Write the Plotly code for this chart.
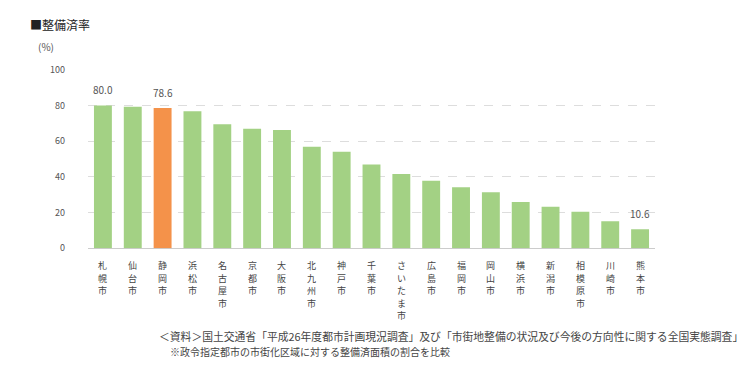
import plotly.graph_objects as go

# 政令指定都市別の整備率（%）
cities = ["札幌市", "仙台市", "静岡市", "浜松市", "名古屋市", "京都市", "大阪市",
          "北九州市", "神戸市", "千葉市", "さいたま市", "広島市", "福岡市", "岡山市",
          "横浜市", "新潟市", "相模原市", "川崎市", "熊本市"]
rates = [80.0, 79.2, 78.6, 76.8, 69.4, 66.9, 66.3, 56.8, 54.1, 46.9, 41.6,
         37.8, 34.1, 31.4, 25.9, 23.2, 20.5, 15.1, 10.6]
highlight = "静岡市"
labelled = ["札幌市", "静岡市", "熊本市"]

y_ticks = [0, 20, 40, 60, 80, 100]

W, H = 747, 371
FONT = "Noto Sans CJK JP, Noto Sans, sans-serif"

colors = ["#f4924a" if c == highlight else "#a3d184" for c in cities]

fig = go.Figure(go.Bar(
    x=cities,
    y=rates,
    marker=dict(color=colors, line=dict(width=0)),
    width=0.6,
    cliponaxis=False,
))

fig.update_layout(
    width=W, height=H,
    margin=dict(l=0, r=0, t=0, b=0),
    paper_bgcolor="white", plot_bgcolor="white",
    showlegend=False,
    font=dict(family=FONT, color="#444444"),
    xaxis=dict(
        domain=[88 / W, 655 / W],
        showticklabels=False,
        showgrid=False, showline=False, ticks="",
    ),
    yaxis=dict(
        domain=[(H - 250) / H, (H - 65) / H],
        range=[0, 100],
        tickvals=y_ticks,
        ticktext=[str(t) for t in y_ticks],
        tickfont=dict(size=9, color="#555555"),
        showgrid=True, gridcolor="#dddddd", griddash="dash", gridwidth=1,
        zeroline=True, zerolinecolor="#cccccc", zerolinewidth=1,
        showline=False, ticks="", ticklabelstandoff=22,
    ),
)

# 縦書きの都市名（1文字ずつ配置）
for name in cities:
    for j, ch in enumerate(name):
        fig.add_annotation(text=ch, x=name, y=1 - (268 + 13 * j) / H,
                           xref="x", yref="paper", xanchor="center", yanchor="middle",
                           showarrow=False,
                           font=dict(size=9, color="#444444", family=FONT))

# 数値ラベル
for name in labelled:
    v = rates[cities.index(name)]
    fig.add_annotation(text=f"{v:.1f}", x=name, y=v, xref="x", yref="y",
                       yanchor="bottom", yshift=6, showarrow=False,
                       font=dict(size=10, color="#555555", family=FONT))

fig.add_annotation(text="■整備済率", x=28 / W, y=1 - 18 / H, xref="paper", yref="paper",
                   xanchor="left", yanchor="middle", showarrow=False,
                   font=dict(size=12, color="#222222", family=FONT))
fig.add_annotation(text="(%)", x=36 / W, y=1 - 41 / H, xref="paper", yref="paper",
                   xanchor="left", yanchor="middle", showarrow=False,
                   font=dict(size=10, color="#555555", family=FONT))
fig.add_annotation(
    text="＜資料＞国土交通省「平成26年度都市計画現況調査」及び「市街地整備の状況及び今後の方向性に関する全国実態調査」",
    x=745 / W, y=1 - 341 / H, xref="paper", yref="paper",
    xanchor="right", yanchor="middle", showarrow=False,
    font=dict(size=10.8, color="#444444", family=FONT))
fig.add_annotation(
    text="※政令指定都市の市街化区域に対する整備済面積の割合を比較",
    x=168 / W, y=1 - 357 / H, xref="paper", yref="paper",
    xanchor="left", yanchor="middle", showarrow=False,
    font=dict(size=10, color="#444444", family=FONT))

fig.write_html("out.html")
